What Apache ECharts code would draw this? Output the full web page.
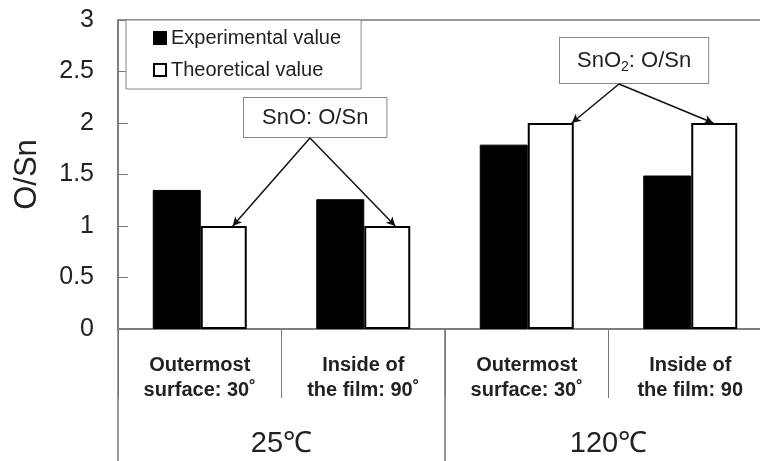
<!DOCTYPE html>
<html>
<head>
<meta charset="utf-8">
<script src="https://cdn.jsdelivr.net/npm/echarts@6/dist/echarts.min.js"></script>
<style>
  html, body { margin: 0; padding: 0; background: #fff; }
  #chart { width: 760px; height: 461px; }
</style>
</head>
<body>
<div id="chart"></div>
<script>
// categories
var positions = ['Outermost\nsurface: 30˚', 'Inside of\nthe film: 90˚', 'Outermost\nsurface: 30˚', 'Inside of\nthe film: 90']
var temperatures = ['25℃', '120℃']
// O/Sn ratios
var experimental = [1.35, 1.26, 1.79, 1.49]
var theoretical = [1, 1, 2, 2]
var yTicks = [0, 3, 0.5]

var chart = echarts.init(document.getElementById('chart'))
var font = 'Liberation Sans, Arial, sans-serif'
var axisGray = '#777'

var option = {
  animation: false,
  textStyle: { fontFamily: font },
  grid: {
    left: 118,
    top: 20,
    width: 654,
    height: 309,
    outerBoundsMode: 'none',
    containLabel: false,
    show: true,
    borderColor: axisGray,
    borderWidth: 1.5
  },
  legend: {
    orient: 'vertical',
    left: 126,
    top: 20,
    padding: [8, 20, 9, 27],
    itemWidth: 12,
    itemHeight: 12,
    itemGap: 12,
    icon: 'rect',
    borderColor: '#888',
    borderWidth: 1,
    backgroundColor: '#fff',
    textStyle: { fontSize: 20, color: '#222', fontFamily: font },
    data: ['Experimental value', 'Theoretical value']
  },
  xAxis: [
    {
      type: 'category',
      data: positions,
      gridIndex: 0,
      axisLine: { show: true, lineStyle: { color: axisGray, width: 1.5 } },
      axisTick: { show: true, length: 69, lineStyle: { color: axisGray } },
      axisLabel: {
        color: '#222',
        fontSize: 20,
        fontWeight: 'bold',
        lineHeight: 25,
        margin: 24
      }
    },
    {
      type: 'category',
      data: temperatures,
      gridIndex: 0,
      position: 'bottom',
      axisLine: { show: false },
      axisTick: { show: true, length: 132, lineStyle: { color: axisGray, width: 1.5 } },
      axisLabel: { color: '#222', fontSize: 29, margin: 100 }
    }
  ],
  yAxis: {
    type: 'value',
    min: yTicks[0],
    max: yTicks[1],
    interval: yTicks[2],
    name: 'O/Sn',
    nameLocation: 'middle',
    nameRotate: 90,
    nameGap: 75,
    nameTextStyle: { fontSize: 31, color: '#222' },
    axisLine: { show: true, lineStyle: { color: axisGray, width: 1.5 } },
    axisTick: { show: true, inside: true, length: 10, lineStyle: { color: axisGray } },
    axisLabel: { color: '#222', fontSize: 25, margin: 24 },
    splitLine: { show: false }
  },
  series: [
    {
      name: 'Experimental value',
      type: 'bar',
      xAxisIndex: 0,
      barWidth: 48,
      barGap: '0%',
      itemStyle: { color: '#000', borderColor: '#000', borderWidth: 1 },
      data: experimental
    },
    {
      name: 'Theoretical value',
      type: 'bar',
      xAxisIndex: 0,
      barWidth: 46,
      barGap: '0%',
      itemStyle: { color: '#fff', borderColor: '#000', borderWidth: 2 },
      data: theoretical
    }
  ]
}
chart.setOption(option)

// annotation arrows, anchored on the theoretical bar tops
function barTop (i, offset) {
  var p = chart.convertToPixel({ xAxisIndex: 0, yAxisIndex: 0 }, [i, theoretical[i]])
  return [p[0] + offset, p[1]]
}
var t0 = barTop(0, 33)
var t1 = barTop(1, 32)
var t2 = barTop(2, 45)
var t3 = barTop(3, 23)

function arrowLine (from, to) {
  return [{ x: from[0], y: from[1] }, { x: to[0], y: to[1] }]
}

chart.setOption({
  series: [
    {},
    {
      markLine: {
        silent: true,
        symbol: ['none', 'arrow'],
        symbolSize: [7, 9],
        label: { show: false },
        lineStyle: { color: '#111', width: 1.5, type: 'solid' },
        data: [
          arrowLine([310, 138], t0),
          arrowLine([310, 138], t1),
          arrowLine([619, 84], t2),
          arrowLine([619, 84], t3)
        ]
      }
    }
  ],
  graphic: [
    {
      type: 'text',
      left: 243,
      top: 97,
      style: {
        text: 'SnO: O/Sn',
        fontSize: 22,
        fontFamily: font,
        fill: '#222',
        backgroundColor: '#fff',
        borderColor: '#888',
        borderWidth: 1,
        padding: [9, 18, 8, 18]
      }
    },
    {
      type: 'text',
      left: 559,
      top: 37,
      style: {
        text: 'SnO{sub|2}: O/Sn',
        fontSize: 22,
        fontFamily: font,
        fill: '#222',
        backgroundColor: '#fff',
        borderColor: '#888',
        borderWidth: 1,
        padding: [10, 17, 9, 17],
        rich: {
          sub: { fontSize: 14, fontFamily: font, fill: '#222', padding: [12, 0, 0, 0] }
        }
      }
    }
  ]
})
</script>
</body>
</html>
